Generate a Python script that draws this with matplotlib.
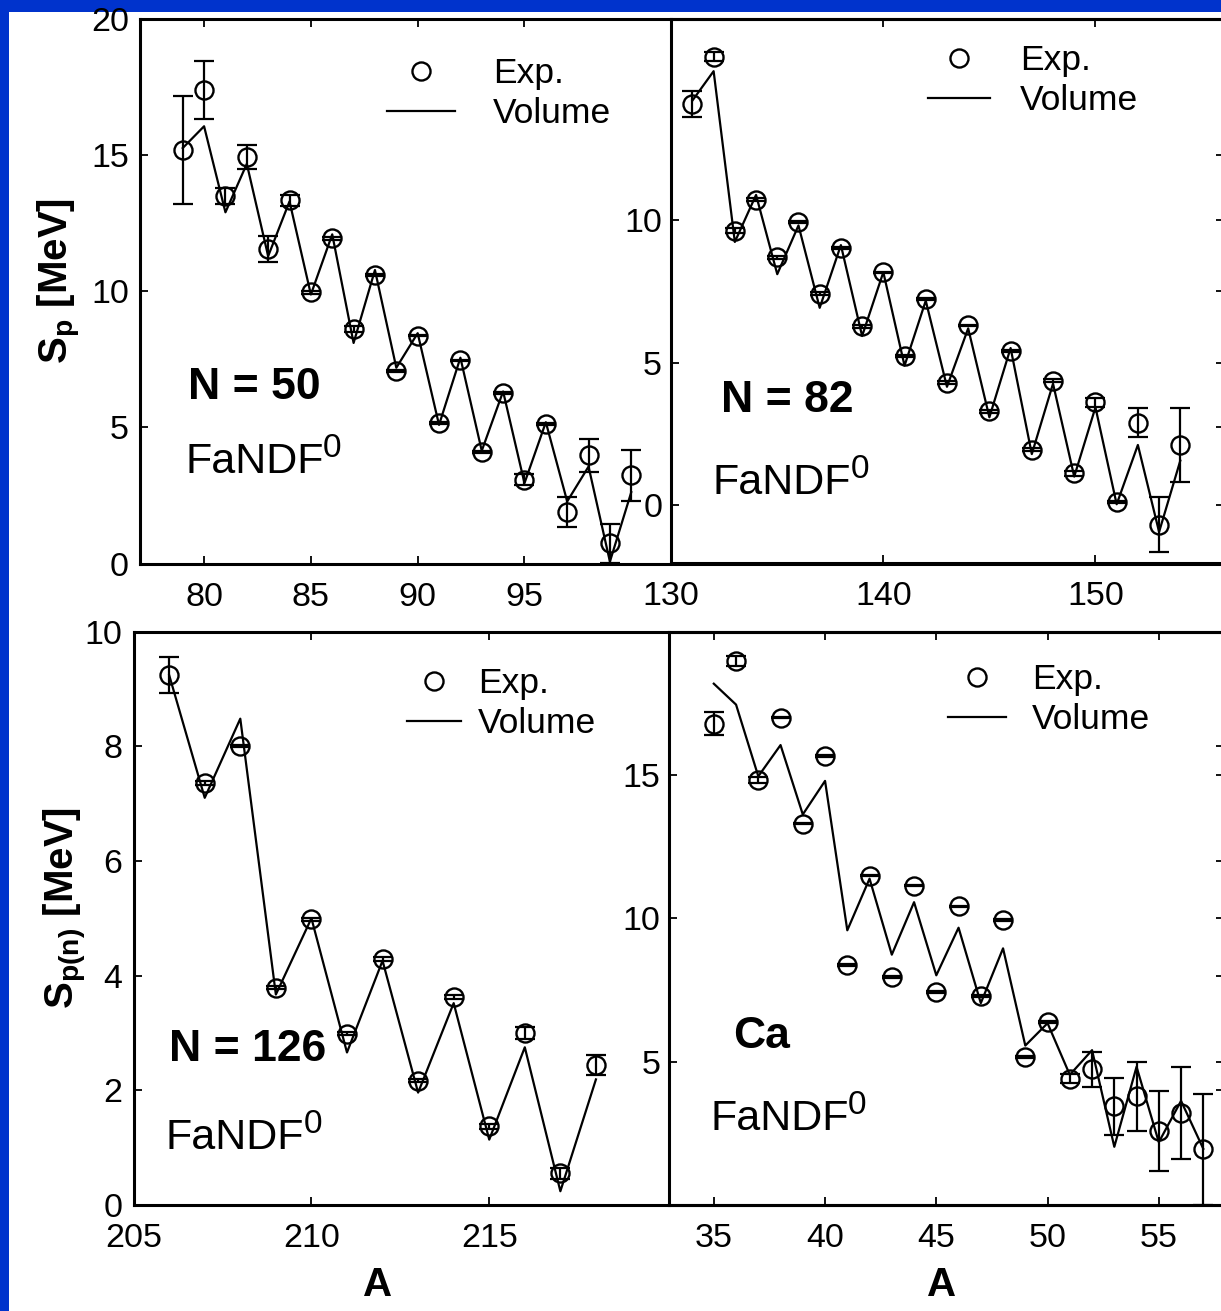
import matplotlib
matplotlib.use('Agg')
from matplotlib import pyplot as plt
from matplotlib.patches import Rectangle

plt.rcParams['font.family'] = ['Liberation Sans', 'DejaVu Sans']
plt.rcParams['mathtext.fontset'] = 'custom'
plt.rcParams['mathtext.rm'] = 'Liberation Sans'
plt.rcParams['mathtext.bf'] = 'Liberation Sans:bold'
plt.rcParams['mathtext.default'] = 'regular'

# N = 50 isotones
A_50 = list(range(79, 101))
exp_50 = [15.19, 17.40, 13.49, 14.93, 11.56, 13.34, 9.96, 11.95, 8.62, 10.60, 7.08,
          8.37, 5.17, 7.46, 4.10, 6.26, 3.07, 5.12, 1.90, 3.97, 0.74, 3.24]
err_50 = [2.0, 1.07, 0.3, 0.45, 0.47, 0.2, 0.05, 0.05, 0.1, 0.05, 0.03,
          0.03, 0.03, 0.03, 0.03, 0.03, 0.2, 0.03, 0.55, 0.6, 0.72, 0.93]
vol_50 = [15.26, 16.06, 12.90, 14.68, 11.29, 13.30, 9.88, 12.09, 8.10, 10.78, 7.19,
          8.46, 5.09, 7.56, 4.14, 6.32, 2.95, 5.19, 2.28, 3.56, 0.07, 2.62]

# N = 82 isotones
A_82 = list(range(131, 155))
exp_82 = [14.08, 15.74, 9.64, 10.72, 8.70, 9.94, 7.43, 9.03, 6.28, 8.17, 5.24, 7.23,
          4.30, 6.31, 3.30, 5.41, 1.96, 4.38, 1.12, 3.61, 0.12, 2.90, -0.67, 2.11]
err_82 = [0.47, 0.15, 0.1, 0.05, 0.05, 0.05, 0.05, 0.03, 0.05, 0.03, 0.05, 0.03,
          0.05, 0.03, 0.05, 0.03, 0.05, 0.05, 0.08, 0.15, 0.05, 0.5, 0.95, 1.3]
vol_82 = [14.2, 15.23, 9.24, 10.89, 8.11, 9.82, 6.93, 9.13, 5.94, 8.18, 4.90, 7.18,
          4.16, 6.21, 3.09, 5.52, 1.80, 4.27, 1.01, 3.44, 0.04, 2.12, -0.93, 1.57]

# N = 126 isotones
A_126 = list(range(206, 219))
exp_126 = [9.24, 7.36, 8.00, 3.79, 4.98, 2.99, 4.29, 2.17, 3.63, 1.37, 3.00, 0.55, 2.44]
err_126 = [0.32, 0.04, 0.02, 0.03, 0.03, 0.03, 0.03, 0.03, 0.03, 0.05, 0.1, 0.1, 0.18]
vol_126 = [9.24, 7.10, 8.48, 3.67, 5.00, 2.66, 4.26, 1.96, 3.52, 1.14, 2.75, 0.24, 2.19]

# Ca isotopes (S_n)
A_ca = list(range(35, 58))
exp_ca = [16.79, 18.97, 14.82, 17.00, 13.30, 15.65, 8.37, 11.49, 7.95, 11.14, 7.42, 10.41,
          7.28, 9.95, 5.16, 6.37, 4.41, 4.73, 3.44, 3.79, 2.58, 3.21, 1.94]
err_ca = [0.39, 0.17, 0.1, 0.03, 0.03, 0.03, 0.03, 0.03, 0.03, 0.03, 0.03, 0.03,
          0.03, 0.03, 0.03, 0.03, 0.15, 0.6, 1.0, 1.2, 1.39, 1.6, 1.93]
vol_ca = [18.18, 17.45, 14.95, 16.04, 13.62, 14.79, 9.58, 11.38, 8.73, 10.56, 8.01, 9.67,
          7.04, 8.95, 5.56, 6.34, 4.54, 5.40, 2.03, 4.82, 2.19, 3.63, 1.96]

W, H = 1221, 1311
LEG_FS = 25.5
fig = plt.figure(figsize=(W / 100, H / 100), dpi=100, facecolor='#0033cc')
fig.patches.append(Rectangle((8.5 / W, 0), 1, 1 - 11.5 / H, transform=fig.transFigure,
                             facecolor='white', edgecolor='none', zorder=-10))


def px_axes(left, top, right, bottom):
    return fig.add_axes([left / W, 1 - bottom / H, (right - left) / W, (bottom - top) / H])


def panel(ax, A, exp, err, vol, xlim, ylim, xticks, yticks, ypad):
    ax.patch.set_visible(False)
    ax.errorbar(A, exp, yerr=err, fmt='none', ecolor='k', elinewidth=1.6,
                capsize=7, capthick=1.6)
    ax.plot(A, exp, 'o', ms=13, mfc='none', mec='k', mew=1.7, label='Exp.')
    ax.plot(A, vol, '-', color='k', lw=1.6, label='Volume')
    ax.set_xlim(*xlim)
    ax.set_ylim(*ylim)
    ax.set_xticks(xticks)
    ax.set_yticks(yticks)
    for s in ax.spines.values():
        s.set_linewidth(2.2)
    ax.tick_params(direction='in', length=6, width=1.3, top=True, right=True,
                   labelsize=24.5)
    ax.tick_params(axis='x', pad=13)
    ax.tick_params(axis='y', pad=ypad)


def legend_at(ax, x, y, hlen, tpad):
    fs = LEG_FS * 100 / 72
    ax.legend(loc='upper left', bbox_to_anchor=(x / W, 1 - y / H),
              bbox_transform=fig.transFigure, frameon=False, fontsize=LEG_FS,
              borderpad=0, borderaxespad=0, handlelength=hlen / fs,
              handletextpad=tpad / fs, labelspacing=0.2, numpoints=1)


def fandf(ax, x, y):
    t = ax.text(x, y, 'FaNDF', fontsize=31, ha='left', va='center')
    ax.annotate('0', xy=(1, 0), xycoords=t, xytext=(-0.5, 18),
                textcoords='offset points', fontsize=24, ha='left', va='baseline')


ax_tl = px_axes(140, 19, 1224, 563.5)
ax_tr = px_axes(671.2, 19, 1224, 563)
ax_bl = px_axes(133.6, 631.5, 1224, 1205)
ax_br = px_axes(669.3, 631.5, 1224, 1205)

panel(ax_tl, A_50, exp_50, err_50, vol_50, (77, 127.75), (0, 20),
      [80, 85, 90, 95], [0, 5, 10, 15, 20], 8)
panel(ax_tr, A_82, exp_82, err_82, vol_82, (130, 156.06), (-2.02, 17.06),
      [130, 140, 150], [0, 5, 10], 6.5)
panel(ax_bl, A_126, exp_126, err_126, vol_126, (205, 235.66), (0, 10),
      [205, 210, 215], [0, 2, 4, 6, 8, 10], 8)
panel(ax_br, A_ca, exp_ca, err_ca, vol_ca, (33, 57.93), (0, 20),
      [35, 40, 45, 50, 55], [5, 10, 15], 6.5)

legend_at(ax_tl, 387, 57, 68, 38)
legend_at(ax_tr, 928, 44, 62, 30)
legend_at(ax_bl, 407, 667, 54, 17)
legend_at(ax_br, 948, 663, 58, 26)

ax_tl.text(79.26, 6.47, 'N = 50', fontsize=32, fontweight='bold', ha='left', va='center')
fandf(ax_tl, 79.11, 3.73)
ax_tr.text(132.34, 3.68, 'N = 82', fontsize=32, fontweight='bold', ha='left', va='center')
fandf(ax_tr, 131.97, 0.80)
ax_bl.text(206.0, 2.72, 'N = 126', fontsize=32, fontweight='bold', ha='left', va='center')
fandf(ax_bl, 205.91, 1.17)
ax_br.text(35.88, 5.86, 'Ca', fontsize=32, fontweight='bold', ha='left', va='center')
fandf(ax_br, 34.83, 3.0)

ax_tl.set_ylabel(r'$\mathbf{S_p}$ [MeV]', fontsize=29, fontweight='bold')
ax_tl.yaxis.set_label_coords(-0.053, 0.519)
ax_bl.set_ylabel(r'$\mathbf{S_{p(n)}}$ [MeV]', fontsize=29, fontweight='bold')
ax_bl.yaxis.set_label_coords(-0.041, 0.518)

ax_bl.set_xlabel('A', fontsize=29, fontweight='bold')
ax_bl.xaxis.set_label_coords(0.2237, -0.107)
ax_br.set_xlabel('A', fontsize=29, fontweight='bold')
ax_br.xaxis.set_label_coords(0.491, -0.107)

fig.savefig('out.png', dpi=100, facecolor=fig.get_facecolor())
